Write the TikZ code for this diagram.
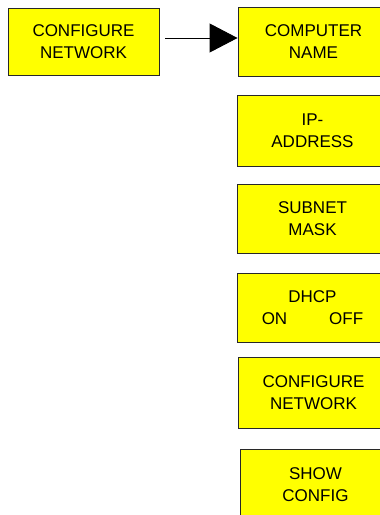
\documentclass[tikz,border=0pt]{standalone}
\usepackage{fontspec}
\setmainfont{Liberation Sans}
\usetikzlibrary{arrows.meta}
\definecolor{boxyellow}{RGB}{255,255,0}
\definecolor{boxline}{RGB}{40,40,40}
\tikzset{
  softkey/.style={draw=boxline, line width=0.9pt, fill=boxyellow, inner sep=0pt,
    minimum width=151pt, align=center, font=\fontsize{17}{22}\selectfont},
  keyarrow/.style={line width=0.9pt, -{Triangle[length=28pt,width=29pt]}}
}
\begin{document}
\begin{tikzpicture}[x=1pt,y=-1pt]
\useasboundingbox (0,0) rectangle (380,515);
\clip (0,0) rectangle (380,515);
\node[softkey, minimum height=67pt] (L) at (83.5,41.5) {CONFIGURE\\NETWORK};
\node[softkey, minimum height=69pt] (R1) at (313.5,41.5) {COMPUTER\\NAME};
\node[softkey, minimum height=71pt] (R2) at (312.5,130.5) {IP-\\ADDRESS};
\node[softkey, minimum height=69pt] (R3) at (312.5,218.5) {SUBNET\\MASK};
\node[softkey, minimum height=69pt] (R4) at (312.5,307.5) {DHCP\\ON\hspace{42pt}OFF};
\node[softkey, minimum height=71pt] (R5) at (313.5,392.5) {CONFIGURE\\NETWORK};
\node[softkey, minimum height=71pt] (R6) at (315.5,484.5) {SHOW\\CONFIG};
\draw[keyarrow] ([xshift=6pt,yshift=3.5pt]L.east) -- ([yshift=3.5pt]R1.west);
\end{tikzpicture}
\end{document}
